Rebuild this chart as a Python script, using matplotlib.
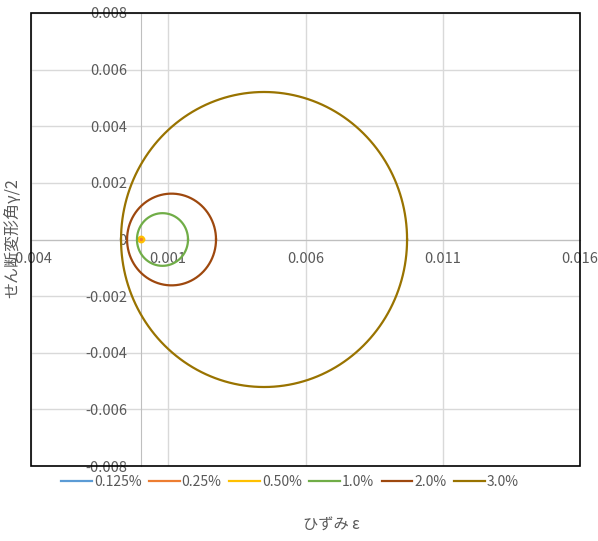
import numpy as np
import matplotlib
matplotlib.use("Agg")
import matplotlib.pyplot as plt
from matplotlib.patches import Rectangle

plt.rcParams['font.family'] = ['Noto Sans CJK JP', 'DejaVu Sans']

labels = ['0.125%', '0.25%', '0.50%', '1.0%', '2.0%', '3.0%']
centers = [0.00001, 0.00002, 0.00002, 0.00079, 0.00112, 0.00449]
radii = [0.00002, 0.00005, 0.00010, 0.00093, 0.00162, 0.00521]
colors = ['#5B9BD5', '#ED7D31', '#FFC000', '#70AD47', '#9E480E', '#997300']
xticks = [-0.004, 0.001, 0.006, 0.011, 0.016]
yticks = [-0.008, -0.006, -0.004, -0.002, 0, 0.002, 0.004, 0.006, 0.008]

fig = plt.figure(figsize=(5.98, 5.41), dpi=100)
ax = fig.add_axes([31/598, 1-466/541, (580-31)/598, (466-13)/541])

theta = np.linspace(0, 2*np.pi, 361)
for lab, c, r, col in zip(labels, centers, radii, colors):
    ax.plot(c + r*np.cos(theta), r*np.sin(theta), color=col, lw=1.6, label=lab, zorder=3)

ax.set_xlim(-0.004, 0.016)
ax.set_ylim(-0.008, 0.008)
ax.set_xticks(xticks)
ax.set_yticks(yticks)
ax.set_xticklabels([f"{v:.3f}" for v in xticks])
ax.set_yticklabels(['0' if v == 0 else f"{v:.3f}" for v in yticks])
ax.grid(True, color='#D9D9D9', lw=1, zorder=0)
ax.set_axisbelow(True)

for s in ['top', 'right']:
    ax.spines[s].set_visible(False)
ax.spines['left'].set_position(('data', 0))
ax.spines['bottom'].set_position(('data', 0))
ax.spines['left'].set_color('#BFBFBF')
ax.spines['bottom'].set_color('#BFBFBF')
ax.tick_params(axis='both', length=0, labelsize=10.5, labelcolor='#595959')
ax.tick_params(axis='y', pad=10)
ax.tick_params(axis='x', pad=9)

ax.add_patch(Rectangle((0, 0), 1, 1, transform=ax.transAxes, fill=False,
                       edgecolor='black', lw=1.2, clip_on=False, zorder=5))

leg = fig.legend(loc='center', bbox_to_anchor=(290/598, 1-482/541), ncol=6, frameon=False,
                 fontsize=10, handlelength=2.2, columnspacing=0.55, handletextpad=0.15)
for t in leg.get_texts():
    t.set_color('#595959')

fig.text(331/598, 1-525/541, 'ひずみ ε', ha='center', va='center', fontsize=11, color='#595959')
fig.text(13/598, 1-238/541, 'せん断変形角γ/2', ha='center', va='center', rotation=90,
         fontsize=11.5, color='#595959')

fig.savefig('out.png', dpi=100)
